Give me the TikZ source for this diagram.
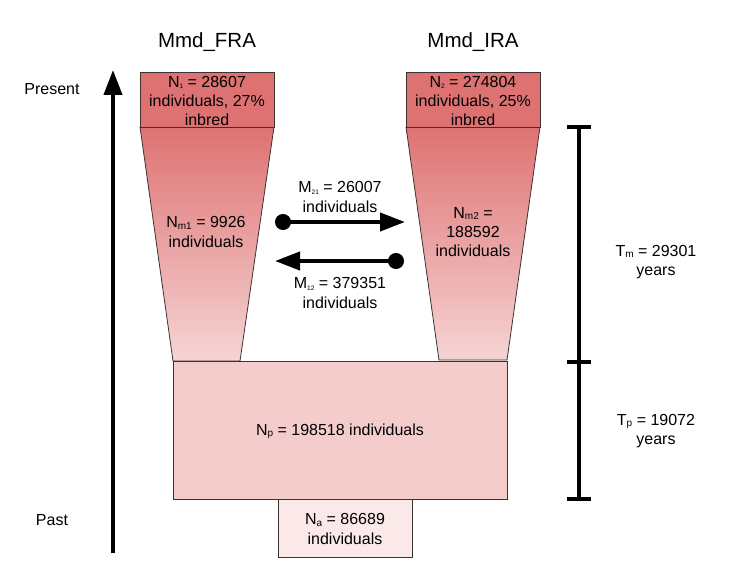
\documentclass[tikz,border=0pt]{standalone}
\usepackage{fontspec}
\setmainfont{Liberation Sans}
\usetikzlibrary{arrows.meta}
\definecolor{topred}{RGB}{222,114,114}
\definecolor{lightred}{RGB}{246,212,212}
\definecolor{npfill}{RGB}{244,204,204}
\definecolor{nafill}{RGB}{251,233,233}
\definecolor{edge}{RGB}{60,50,50}
\newcommand{\sbs}[1]{\raisebox{-1.5pt}{\fontsize{6.5}{6.5}\selectfont #1}}
\newcommand{\sbm}[1]{\raisebox{-1.5pt}{\fontsize{10}{10}\selectfont #1}}
\tikzset{
  lbl/.style={align=center, font=\fontsize{16}{19.3}\selectfont, inner sep=0pt},
  title/.style={font=\fontsize{20.5}{24}\selectfont, inner sep=0pt},
  popbox/.style={draw=edge, line width=0.8pt},
  migr/.style={line width=4pt, {Circle[length=16pt,width=16pt]}-{Triangle[length=25pt,width=18pt]}},
  bar/.style={line width=3.5pt}
}
\begin{document}
\begin{tikzpicture}[x=1pt,y=-1pt]
\useasboundingbox (0,0) rectangle (734,586);
% titles
\node[title] (tfra) at (207,42) {Mmd\_FRA};
\node[title] (tira) at (473,42) {Mmd\_IRA};
\node[lbl] (present) at (52,89) {Present};
\node[lbl] (past) at (52,520) {Past};
% time arrow
\coordinate (tb) at (113,553);
\coordinate (tt) at (113,70);
\draw[line width=4pt, -{Triangle[length=25pt,width=18pt]}] (tb) -- (tt);
% trapezoids
\shade[top color=topred, bottom color=lightred, draw=edge, line width=0.8pt]
  (140,127) -- (274,127) -- (240,361) -- (173,361) -- cycle;
\shade[top color=topred, bottom color=lightred, draw=edge, line width=0.8pt]
  (406,127) -- (540,127) -- (507,360) -- (439,360) -- cycle;
% top boxes
\draw[popbox, fill=topred] (140,72) rectangle (274,127);
\draw[popbox, fill=topred] (406,72) rectangle (540,127);
\node[lbl] (n1) at (207,101) {N\sbs{1} = 28607\\individuals, 27\%\\inbred};
\node[lbl] (n2) at (473,101) {N\sbs{2} = 274804\\individuals, 25\%\\inbred};
\node[lbl] (nm1) at (206,232) {N\sbm{m1} = 9926\\individuals};
\node[lbl] (nm2) at (473,232) {N\sbm{m2} =\\188592\\individuals};
% ancestral boxes
\draw[popbox, fill=npfill] (173,361) rectangle (507,499);
\node[lbl] (np) at (340,431) {N\sbm{p} = 198518 individuals};
\draw[popbox, fill=nafill] (278,499) rectangle (412,557);
\node[lbl] (na) at (345,529) {N\sbm{a} = 86689\\individuals};
% migration
\coordinate (a1s) at (275,222);
\coordinate (a1e) at (405,222);
\coordinate (a2s) at (404,261);
\coordinate (a2e) at (275,261);
\draw[migr] (a1s) -- (a1e);
\draw[migr] (a2s) -- (a2e);
\node[lbl] (m21) at (340,197) {M\sbs{21} = 26007\\individuals};
\node[lbl] (m12) at (340,293) {M\sbs{12} = 379351\\individuals};
% time scale
\coordinate (s1) at (579,127);
\coordinate (s2) at (579,362);
\coordinate (s3) at (579,499);
\draw[bar] (s1) -- (s3);
\foreach \c in {s1,s2,s3} \draw[bar] ([xshift=-12pt]\c) -- ([xshift=12pt]\c);
\node[lbl] (tm) at (656,262) {T\sbm{m} = 29301\\years};
\node[lbl] (tp) at (656,431) {T\sbm{p} = 19072\\years};
\end{tikzpicture}
\end{document}
